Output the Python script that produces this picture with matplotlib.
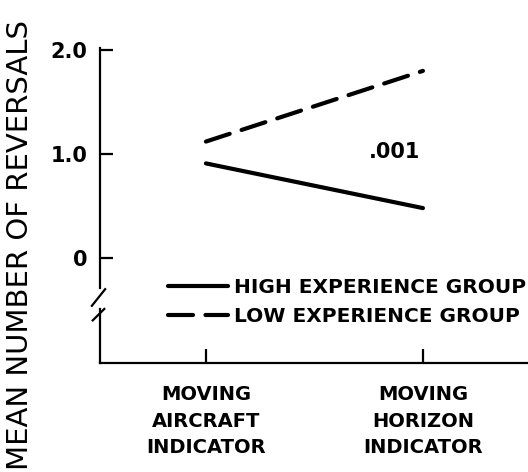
import matplotlib
matplotlib.use("Agg")
import matplotlib.pyplot as plt
import matplotlib.transforms as mtransforms

# data
displays = ["MOVING\nAIRCRAFT\nINDICATOR", "MOVING\nHORIZON\nINDICATOR"]
high_exp = [0.91, 0.48]
low_exp = [1.12, 1.80]
yticks = [0, 1.0, 2.0]
ytick_labels = ["0", "1.0", "2.0"]
sig_label = ".001"

plt.rcParams['font.family'] = ['DejaVu Sans']

fig = plt.figure(figsize=(5.28, 4.72), dpi=100)
ax = fig.add_axes([100/528, 1-363/472, 428/528, 315/472])

x = range(len(displays))
ax.plot(x, high_exp, color="black", lw=3, solid_capstyle="round",
        label="HIGH EXPERIENCE GROUP")
ax.plot(x, low_exp, color="black", lw=3, dashes=(6, 3), dash_capstyle="round",
        label="LOW EXPERIENCE GROUP")

ax.set_xlim(-0.488, 1.484)
ax.set_ylim(-1.01, 2.02)

ax.text(0.87, 1.02, sig_label, fontsize=15, fontweight="bold",
        ha="center", va="center")

# axes styling
for s in ["top", "right", "left"]:
    ax.spines[s].set_visible(False)
ax.spines["bottom"].set_linewidth(1.6)

ax.set_yticks(yticks, ytick_labels, fontsize=15, fontweight="bold")
ax.set_xticks(list(x), displays, fontsize=14, fontweight="bold",
              linespacing=1.5)
ax.tick_params(axis="y", direction="in", length=9, width=1.6, pad=9)
ax.tick_params(axis="x", direction="in", length=10, width=1.6, pad=16)

# broken y axis drawn by hand
tr = mtransforms.blended_transform_factory(ax.transAxes, ax.transData)
ax.plot([0, 0], [2.02, -0.29], color="black", lw=1.6, transform=tr, clip_on=False)
ax.plot([0, 0], [-0.49, -1.01], color="black", lw=1.6, transform=tr, clip_on=False)
ax.plot([-0.019, 0.012], [-0.46, -0.30], color="black", lw=1.6, transform=tr, clip_on=False)
ax.plot([-0.017, 0.010], [-0.60, -0.49], color="black", lw=1.6, transform=tr, clip_on=False)

ax.legend(loc="upper left", bbox_to_anchor=(168/528, 1-278/472),
          bbox_transform=fig.transFigure, frameon=False, borderpad=0,
          borderaxespad=0, handlelength=3.0, handletextpad=0.3,
          labelspacing=0.5, prop={"size": 14.5, "weight": "bold"})

fig.text(20/528, 1-245/472, "MEAN NUMBER OF REVERSALS", rotation=90,
         fontsize=21, ha="center", va="center")

fig.savefig("out.png", dpi=100)
